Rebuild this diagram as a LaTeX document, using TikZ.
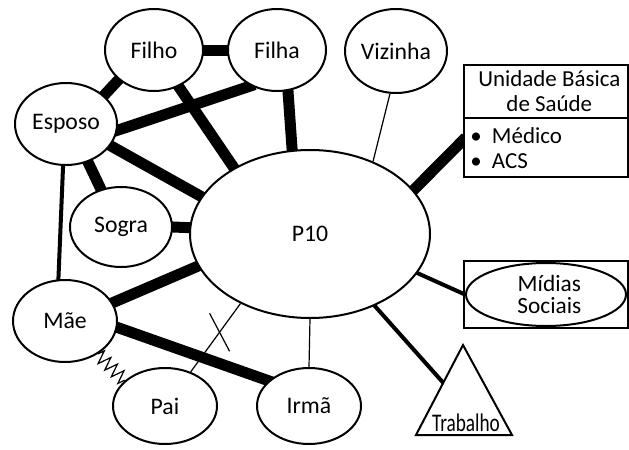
\documentclass[tikz,border=0pt]{standalone}
\usepackage{fontspec}
\setmainfont{Carlito}
\usetikzlibrary{shapes.geometric,backgrounds,calc,decorations.pathmorphing}

\begin{document}
\begin{tikzpicture}[x=0.75pt,y=-0.75pt,
  person/.style={ellipse, draw, line width=1.5pt, fill=white, inner sep=0pt,
    font=\fontsize{17.8}{20}\selectfont},
  box/.style={draw, line width=1.5pt, fill=white, inner sep=0pt},
  strong/.style={line width=8.25pt, shorten <=-3pt, shorten >=-3pt},
  medium/.style={line width=3pt, shorten <=-2pt, shorten >=-2pt},
  weak/.style={line width=0.9pt},
]
\useasboundingbox (0,0) rectangle (629,450);

% people around P10
\node[person, minimum width=73.5pt, minimum height=61.5pt] (filho) at (154,50) {Filho};
\node[person, minimum width=73.5pt, minimum height=61.5pt] (filha) at (277,50) {Filha};
\node[person, minimum width=76.5pt, minimum height=63pt] (vizinha) at (396,51) {Vizinha};
\node[person, minimum width=76.5pt, minimum height=61.5pt] (esposo) at (66,124) {Esposo};
\node[person, minimum width=76.5pt, minimum height=60pt] (sogra) at (121,227) {Sogra};
\node[person, minimum width=180pt, minimum height=126pt] (p10) at (310,234) {P10};
\node[person, minimum width=78pt, minimum height=61.5pt] (mae) at (65,321) {Mãe};
\node[person, minimum width=78pt, minimum height=57pt] (pai) at (165,406) {Pai};
\node[person, minimum width=78pt, minimum height=57pt] (irma) at (309,406) {Irmã};

% health unit
\node[box, minimum width=123pt, minimum height=39.75pt, align=center,
  font=\fontsize{17.2}{18.75}\selectfont] (ubstop) at (546,91.5)
  {\hspace{5pt}Unidade Básica\\\hspace{5pt}de Saúde};
\node[box, minimum width=123pt, minimum height=44.25pt] (ubsbot) at (546,147.5) {};
\node[anchor=west, align=left, inner sep=0pt,
  font=\fontsize{17.2}{18.75}\selectfont] (ubslist) at (470,148)
  {\textbullet\hspace{0.45em}Médico\\\textbullet\hspace{0.45em}ACS};

% social media
\node[box, minimum width=123pt, minimum height=50.25pt] (midiasbox) at (546,294.5) {};
\node[ellipse, draw, line width=1.5pt, inner sep=0pt, minimum width=120pt,
  minimum height=47.25pt, align=center, font=\fontsize{17.5}{17}\selectfont]
  (midias) at (546,294.5) {\hspace{5pt}Mídias\\\hspace{5pt}Sociais};

% work
\coordinate (ta) at (463,345);
\coordinate (tl) at (416,435);
\coordinate (tr) at (512,435);
\draw[line width=1.5pt, fill=white] (ta) -- (tl) -- (tr) -- cycle;
\node[inner sep=0pt, font=\fontsize{17}{20}\selectfont] (trabalho) at (466,423)
  {\scalebox{0.85}[1.12]{Trabalho}};
\coordinate (tside) at ($(ta)!0.42!(tl)$);

% ties
\begin{pgfonlayer}{background}
\fill[white] (0,0) rectangle (629,450);
\draw[strong] (filho.east) -- (filha.west);
\draw[strong] (esposo.37) -- (filho.220);
\draw[strong] (esposo.353) -- (filha.234);
\draw[strong] (esposo.334) -- (p10.161);
\draw[strong] (esposo.300) -- (sogra.118);
\draw[strong] (filho.304) -- (p10.139);
\draw[strong] (filha.285) -- (p10.102);
\draw[strong] (sogra.0) -- (p10.177);
\draw[medium] (esposo.266) -- (mae.99);
\draw[strong] (mae.21) -- (p10.196);
\draw[strong] (mae.353) -- (irma.148);
\draw[weak, decorate, decoration={zigzag, segment length=7pt, amplitude=5pt}]
  (mae.315) -- (pai.148);
\draw[weak] (pai.53) -- coordinate[pos=0.58] (cut) (p10.225);
\draw[weak] ($(cut)+(-10,-19)$) -- ($(cut)+(10,19)$);
\draw[weak] (p10.270) -- (irma.90);
\draw[weak] (vizinha.262) -- (p10.49);
\draw[strong] (p10.23) -- (ubsbot.175);
\draw[medium] (p10.340) -- (midias.west);
\draw[medium] (p10.312) -- (tside);
\end{pgfonlayer}
\end{tikzpicture}
\end{document}
